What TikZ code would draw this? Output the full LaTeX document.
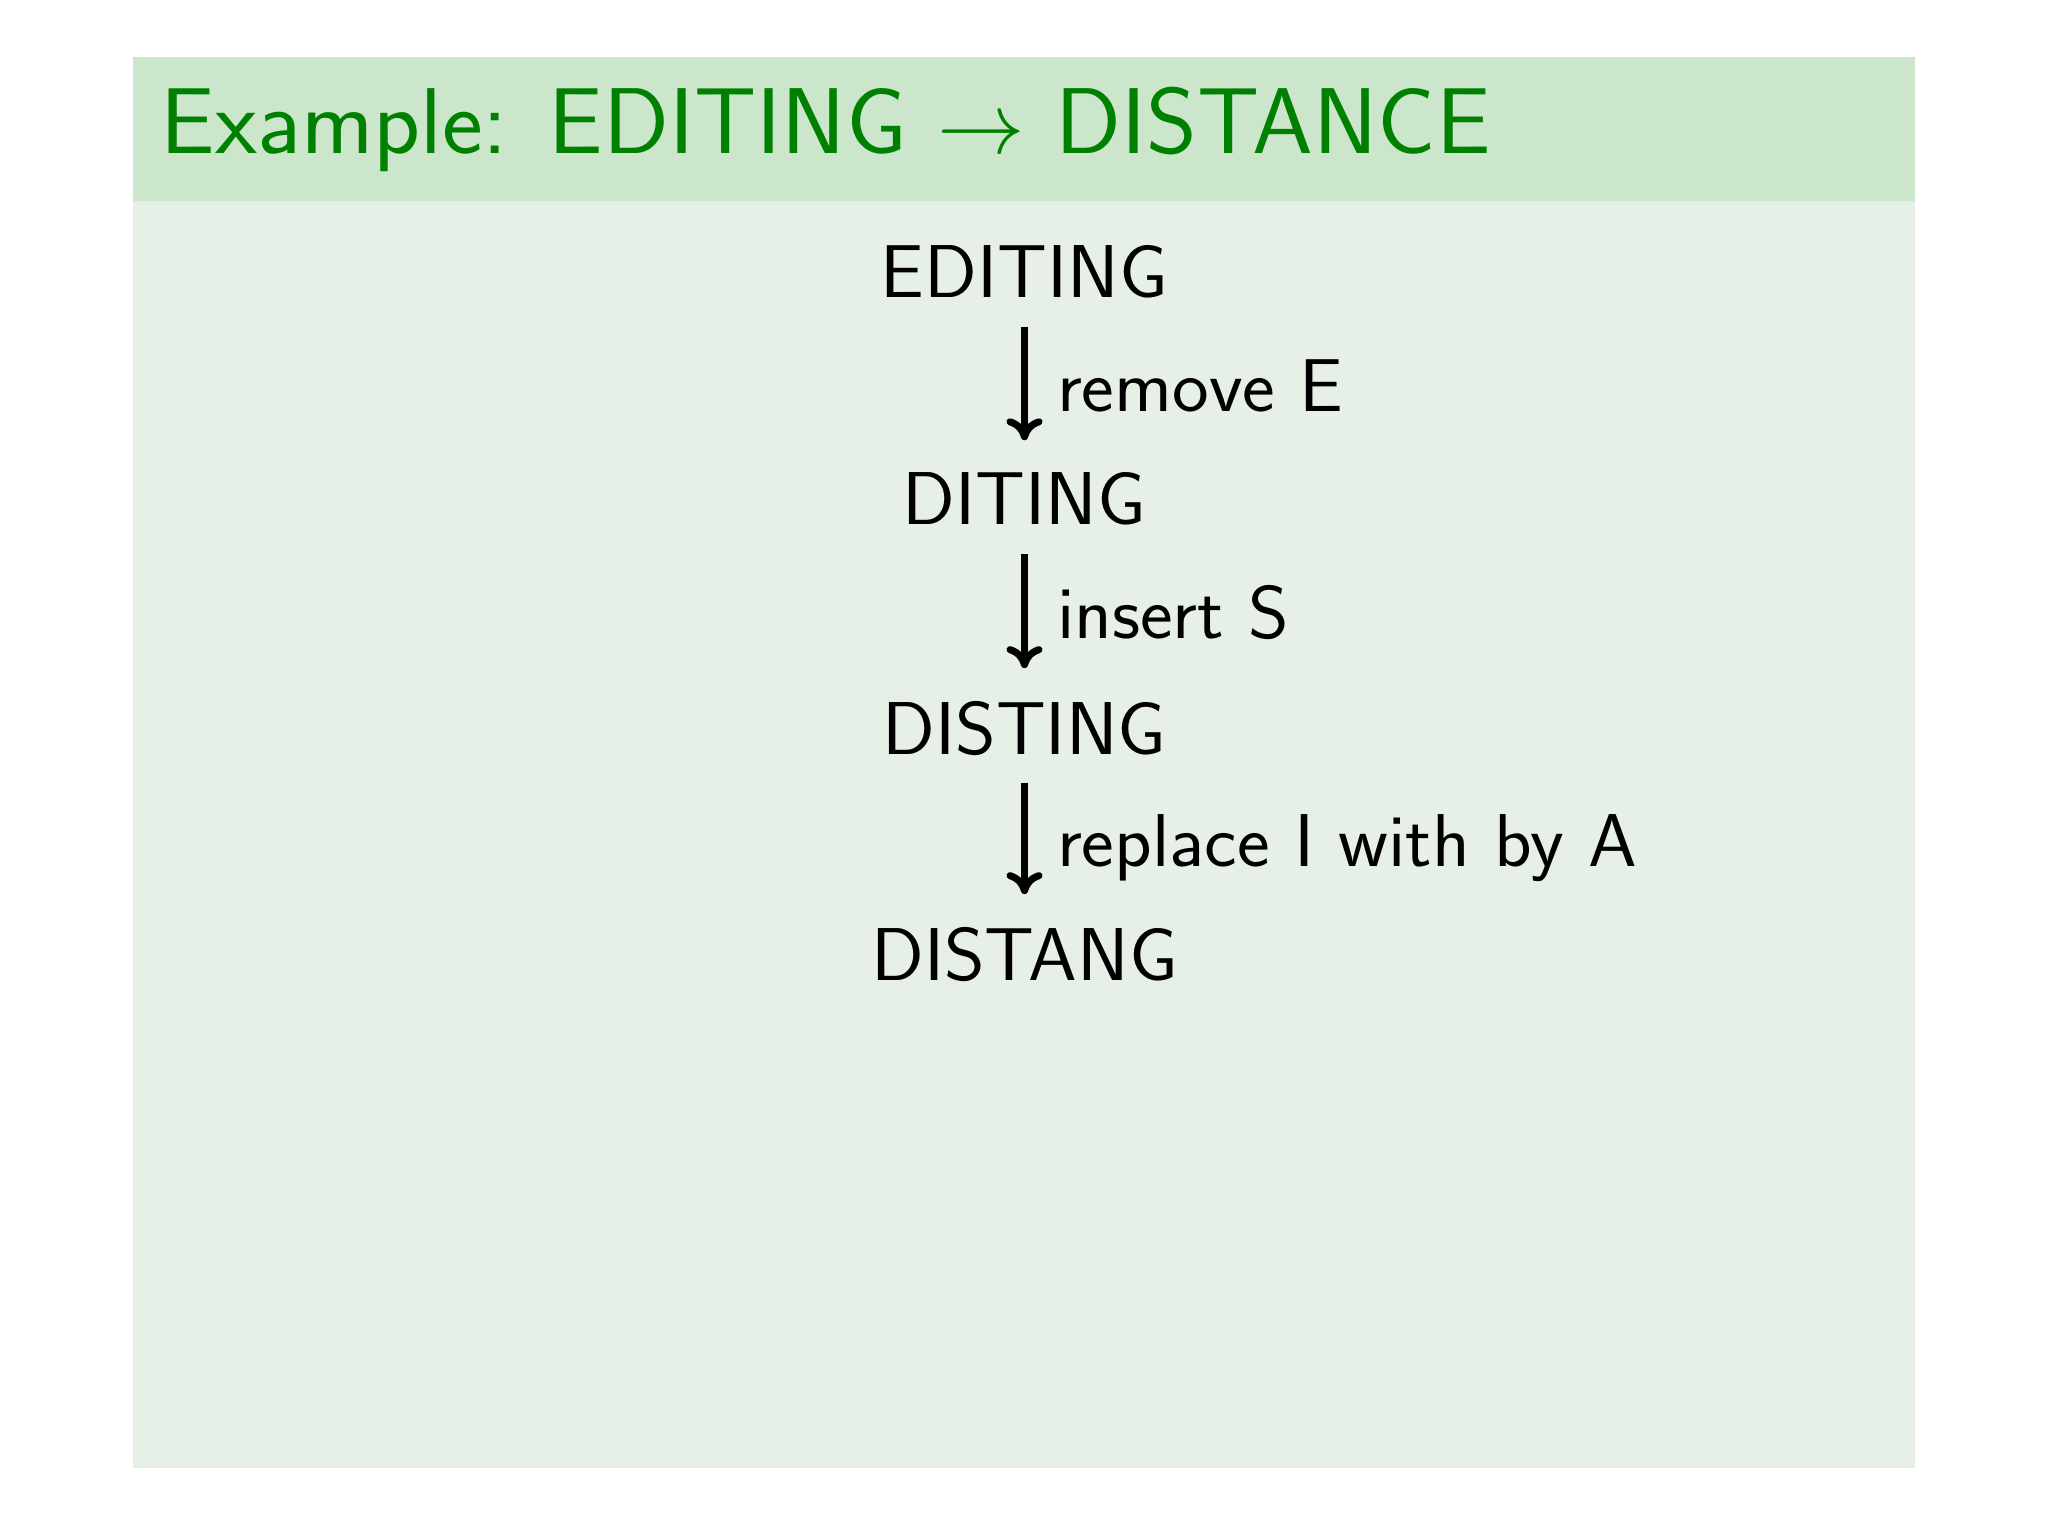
\documentclass[tikz,border=0pt]{standalone}
\usepackage{fontspec}
\setsansfont{Latin Modern Sans}[FakeStretch=1.04]
\usetikzlibrary{arrows.meta}
\renewcommand{\familydefault}{\sfdefault}
\definecolor{headgreen}{RGB}{204,230,204}
\definecolor{bodygreen}{RGB}{231,240,231}
\definecolor{titlegreen}{RGB}{0,128,0}

\begin{document}
\begin{tikzpicture}[word/.style={inner sep=0pt, anchor=base, text depth=0pt, font=\fontsize{21.3pt}{26pt}\selectfont},
	edit/.style={midway, right=2.9mm, inner sep=0pt, text height=5.2mm, text depth=0pt, font=\fontsize{21.3pt}{26pt}\selectfont},
	step arrow/.style={line width=2pt, -{To[length=2.2mm,width=3.6mm]}, shorten <=2.8mm, shorten >=3.2mm}]
	
	\useasboundingbox (0,0) rectangle (20.48,-15.36);
	\fill[white] (0,0) rectangle (20.48,-15.36);
	\fill[headgreen] (1.33,-0.57) rectangle (19.15,-2.01);
	\fill[bodygreen] (1.33,-2.01) rectangle (19.15,-14.68);
	
	\node [anchor=base west, inner sep=0pt, text=titlegreen, font=\fontsize{26.6pt}{32pt}\selectfont] (title) at (1.60,-1.54) {Example: EDITING $\rightarrow$ DISTANCE};
	
	\node [word] (editing) at (10.245,-2.98) {EDITING};
	\node [word] (diting)  at (10.245,-5.25) {DITING};
	\node [word] (disting) at (10.245,-7.54) {DISTING};
	\node [word] (distang) at (10.245,-9.80) {DISTANG};
	
	\draw [step arrow] (editing.south) -- (diting.north) node [edit] {remove E};
	\draw [step arrow] (diting.south) -- (disting.north) node [edit] {insert S};
	\draw [step arrow] (disting.south) -- (distang.north) node [edit] {replace I with by A};
\end{tikzpicture}
\end{document}
